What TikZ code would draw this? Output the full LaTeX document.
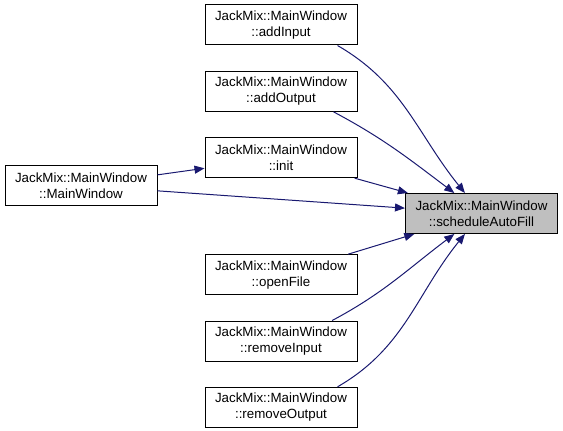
\documentclass[tikz,border=0pt]{standalone}
\usepackage{fontspec}
\setmainfont{Liberation Sans}
\usetikzlibrary{arrows.meta, positioning}
\definecolor{edgeblue}{RGB}{25,25,112}
\definecolor{selgray}{RGB}{191,191,191}

\begin{document}
\begin{tikzpicture}[x=0.75pt, y=0.75pt, node distance=19pt,
  fn/.style={rectangle, draw=black, line width=0.75pt, fill=white, minimum width=114pt, minimum height=30pt, align=center, font=\fontsize{10}{12}\selectfont, inner sep=1pt},
  cur/.style={fn, fill=selgray},
  arr/.style={-{Triangle[length=7.5pt,width=6pt]}, draw=edgeblue, line width=0.75pt}
]
\useasboundingbox (0,0) rectangle (563,-431);
% callers column
\node[fn] (addin) at (281,-25) {JackMix::MainWindow\\::addInput};
\node[fn, below=of addin] (addout) {JackMix::MainWindow\\::addOutput};
\node[fn, below=of addout] (init) {JackMix::MainWindow\\::init};
\node[fn, below=57pt of init] (open) {JackMix::MainWindow\\::openFile};
\node[fn, below=of open] (remin) {JackMix::MainWindow\\::removeInput};
\node[fn, below=of remin] (remout) {JackMix::MainWindow\\::removeOutput};
\node[fn] (ctor) at (81,-185.5) {JackMix::MainWindow\\::MainWindow};
\node[cur] (sched) at (481.5,-213.5) {JackMix::MainWindow\\::scheduleAutoFill};
% edges
\draw[arr] ([xshift=-15pt]addin.south east) to[out=-30, in=129] (sched);
\draw[arr] ([xshift=-18pt]addout.south east) to[out=-28, in=143] (sched);
\draw[arr] (init) -- (sched);
\draw[arr] (ctor) -- (init);
\draw[arr] (ctor) -- (sched);
\draw[arr] (open) -- (sched);
\draw[arr] ([xshift=-19pt]remin.north east) to[out=28, in=-143] (sched);
\draw[arr] ([xshift=-15pt]remout.north east) to[out=30, in=-129] (sched);
\end{tikzpicture}
\end{document}
